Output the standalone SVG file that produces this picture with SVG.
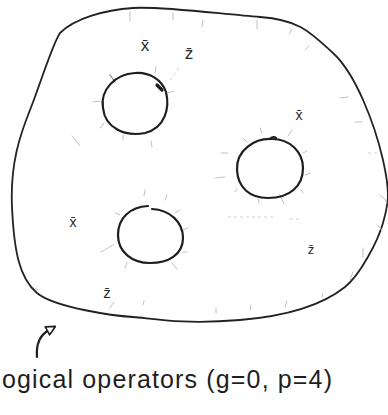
<svg xmlns="http://www.w3.org/2000/svg" width="388" height="415" viewBox="0 0 388 415">
<style>
.ink{fill:none;stroke:#1e1e1e;stroke-width:2.2;stroke-linecap:round;stroke-linejoin:round}
.outer{fill:none;stroke:#222;stroke-width:1.8;stroke-linecap:round;stroke-linejoin:round}
.tick{fill:none;stroke:#c0c0c0;stroke-width:1;stroke-linecap:round}
.tickd{fill:none;stroke:#8a8a8a;stroke-width:1.2;stroke-linecap:round}
.faint{fill:none;stroke:#d2d2d2;stroke-width:1;stroke-dasharray:3 3}
.lbl{font-family:"Liberation Sans","DejaVu Sans",sans-serif;fill:#2a2a2a;text-anchor:middle}
.cap{font-family:"Liberation Sans","DejaVu Sans",sans-serif;fill:#1e1e1e;font-size:25px}
</style>
<defs>
<marker id="head" viewBox="0 0 12 12" refX="3" refY="6" markerWidth="11" markerHeight="11" markerUnits="userSpaceOnUse" orient="auto">
<path d="M1,1 L11,6 L1,11 Z" fill="#fff" stroke="#1e1e1e" stroke-width="1.8" stroke-linejoin="round"/>
</marker>
</defs>
<rect width="388" height="415" fill="#fff"/>

<g id="surface">
<path class="outer" d="M60,33 C75,18 105,10 133,8 S220,14 260,17 S310,32 333,53 S375,125 383,160 S388,205 383,223 S360,275 345,287 S300,315 240,320 S150,318 133,317 S55,308 37,293 S14,250 12,207 S20,135 30,110 S52,45 60,33 Z"/>
</g>

<g id="ticks">
<line class="tick" x1="130" y1="12" x2="130" y2="21"/>
<line class="tick" x1="173" y1="13" x2="173" y2="20"/>
<line class="tick" x1="203" y1="20" x2="202" y2="27"/>
<line class="tick" x1="257" y1="20" x2="257" y2="29"/>
<line class="tick" x1="292" y1="29" x2="289" y2="34"/>
<line class="tick" x1="309" y1="46" x2="305" y2="50"/>
<line class="tick" x1="340" y1="98" x2="348" y2="97"/>
<line class="tick" x1="355" y1="122" x2="362" y2="122"/>
<path class="tick" d="M380,195 Q385,198 387,203"/>
<path class="tick" d="M377,225 Q381,227 382,231"/>
<line class="tick" x1="363" y1="248" x2="363" y2="257"/>
<line class="tick" x1="350" y1="280" x2="353" y2="272"/>
<line class="tick" x1="322" y1="297" x2="323" y2="293"/>
<line class="tick" x1="285" y1="307" x2="287" y2="301"/>
<line class="tick" x1="250" y1="310" x2="251" y2="305"/>
<line class="tick" x1="216" y1="313" x2="216" y2="308"/>
<line class="tick" x1="143" y1="305" x2="144" y2="301"/>
<line class="tick" x1="110" y1="308" x2="114" y2="302"/>
<line class="tick" x1="35" y1="288" x2="38" y2="290"/>
<line class="tick" x1="72" y1="136" x2="80" y2="146"/>
<line class="tickd" x1="110" y1="75" x2="115" y2="82"/>
<line class="tick" x1="156" y1="67" x2="155" y2="73"/>
<line class="faint" x1="170" y1="80" x2="180" y2="66"/>
<line class="tick" x1="168" y1="93" x2="174" y2="91"/>
<line class="tick" x1="93" y1="102" x2="100" y2="101"/>
<line class="tick" x1="100" y1="128" x2="104" y2="123"/>
<line class="tick" x1="123" y1="135" x2="123" y2="140"/>
<line class="tick" x1="151" y1="141" x2="152" y2="147"/>
<line class="tick" x1="260" y1="128" x2="262" y2="133"/>
<line class="tick" x1="288" y1="136" x2="292" y2="130"/>
<line class="tick" x1="243" y1="138" x2="247" y2="142"/>
<line class="tick" x1="303" y1="153" x2="307" y2="151"/>
<line class="tick" x1="221" y1="153" x2="228" y2="153"/>
<line class="tick" x1="215" y1="178" x2="225" y2="177"/>
<line class="tick" x1="305" y1="175" x2="310" y2="173"/>
<line class="tick" x1="301" y1="190" x2="303" y2="193"/>
<line class="tick" x1="235" y1="192" x2="237" y2="189"/>
<line class="tick" x1="258" y1="198" x2="259" y2="203"/>
<line class="tick" x1="280" y1="195" x2="284" y2="204"/>
<line class="faint" x1="228" y1="217" x2="273" y2="217"/>
<line class="faint" x1="290" y1="219" x2="300" y2="219"/>
<line class="faint" x1="368" y1="153" x2="377" y2="153"/>
<line class="tick" x1="145" y1="190" x2="144" y2="196"/>
<line class="tick" x1="167" y1="195" x2="165" y2="200"/>
<line class="tick" x1="175" y1="213" x2="180" y2="210"/>
<line class="tick" x1="183" y1="230" x2="188" y2="228"/>
<line class="tick" x1="183" y1="252" x2="187" y2="252"/>
<line class="tick" x1="172" y1="263" x2="177" y2="269"/>
<line class="tick" x1="127" y1="262" x2="125" y2="268"/>
<line class="tick" x1="101" y1="252" x2="113" y2="245"/>
<line class="tick" x1="115" y1="213" x2="120" y2="215"/>
</g>

<g id="hole1">
<path class="ink" d="M103,108 C100,90 115,74 135,73 C150,72 162,80 166,92 C170,108 165,128 145,133 C125,137 105,128 103,108 Z"/>
<path d="M157,85 L162,90" stroke="#1e1e1e" stroke-width="3.2" stroke-linecap="round"/>
</g>
<g id="hole2">
<path class="ink" d="M237,170 C236,150 255,138 272,139 C290,139 303,152 303,168 C303,186 290,198 268,198 C250,198 238,188 237,170 Z"/>
<path class="ink" d="M270,139 Q273,136 276,138"/>
</g>
<g id="hole3">
<path class="ink" d="M152,209 C170,210 183,222 183,238 C183,255 168,263 150,263 C132,263 118,252 118,235 C118,218 130,207 148,206"/>
</g>

<g id="labels">
<text class="lbl" x="145" y="51" font-size="17">x̄</text>
<text class="lbl" x="189" y="59" font-size="17">z̄</text>
<text class="lbl" x="299" y="120" font-size="14">x̄</text>
<text class="lbl" x="73" y="227" font-size="14">x̄</text>
<text class="lbl" x="107" y="298" font-size="15">z̄</text>
<text class="lbl" x="311" y="254" font-size="13">z̄</text>
</g>

<g id="connectors">
<path class="ink" d="M37,357 C36,345 40,335 49,330" marker-end="url(#head)"/>
</g>

<g id="caption">
<text class="cap" x="2" y="388" textLength="330" lengthAdjust="spacing">ogical operators (g=0, p=4)</text>
</g>
</svg>
